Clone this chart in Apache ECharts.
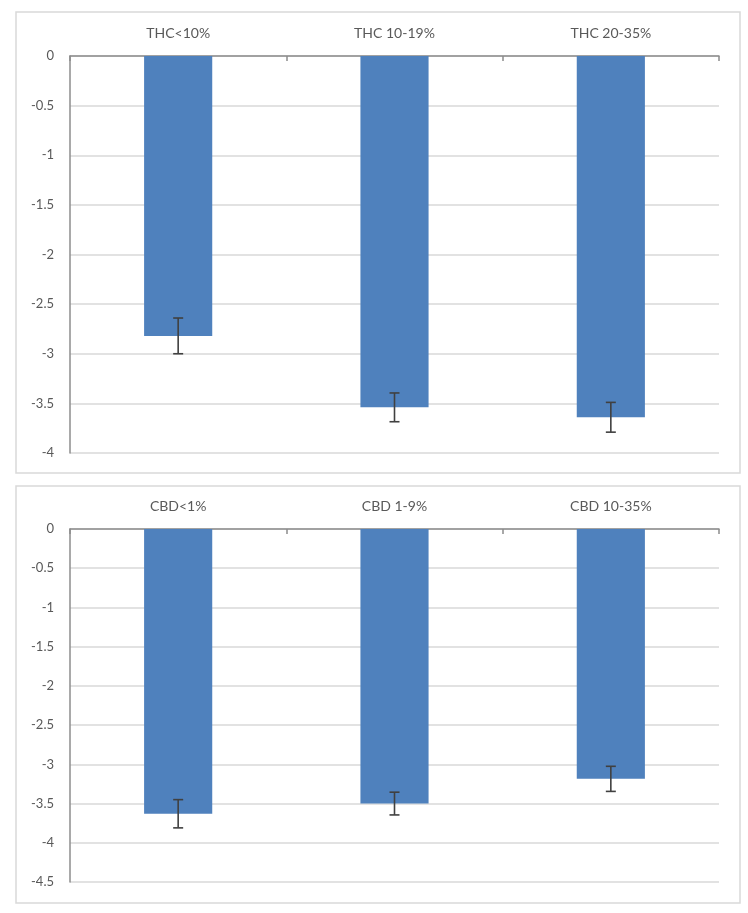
<!DOCTYPE html>
<html>
<head>
<meta charset="utf-8">
<script src="https://cdn.jsdelivr.net/npm/echarts@6/dist/echarts.min.js"></script>
<style>
html,body{margin:0;padding:0;background:#fff;}
#c{width:748px;height:913px;}
</style>
</head>
<body>
<div id="c"></div>
<script>
const thcCategories = ['THC<10%', 'THC 10-19%', 'THC 20-35%'];
const thcValues = [-2.82, -3.54, -3.64];
const thcErrors = [0.18, 0.145, 0.15];
const cbdCategories = ['CBD<1%', 'CBD 1-9%', 'CBD 10-35%'];
const cbdValues = [-3.63, -3.50, -3.185];
const cbdErrors = [0.18, 0.145, 0.16];
const thcAxis = {min: -4, max: 0, interval: 0.5};
const cbdAxis = {min: -4.5, max: 0, interval: 0.5};

const FONT = 'Lato';
const axisGray = '#8c8c8c';
const gridGray = '#d9d9d9';
const textGray = '#595959';
const barColor = '#4f81bd';

function errData(vals, errs) {
  return vals.map((v, i) => [i, v - errs[i], v + errs[i]]);
}
function errRender(params, api) {
  const x = api.value(0);
  const lo = api.coord([x, api.value(1)]);
  const hi = api.coord([x, api.value(2)]);
  const cap = 5;
  const style = {stroke: '#404040', lineWidth: 1.6};
  return {
    type: 'group',
    children: [
      {type: 'line', shape: {x1: lo[0], y1: lo[1], x2: hi[0], y2: hi[1]}, style},
      {type: 'line', shape: {x1: lo[0] - cap, y1: lo[1], x2: lo[0] + cap, y2: lo[1]}, style},
      {type: 'line', shape: {x1: hi[0] - cap, y1: hi[1], x2: hi[0] + cap, y2: hi[1]}, style}
    ]
  };
}
function xAxisCfg(cats, gi) {
  return {
    type: 'category', gridIndex: gi, data: cats, position: 'top',
    axisLine: {onZero: false, lineStyle: {color: axisGray, width: 1.5}},
    axisTick: {show: true, inside: true, length: 5, lineStyle: {color: axisGray, width: 1.5}},
    axisLabel: {color: textGray, fontFamily: FONT, fontSize: 14, margin: 16},
    splitLine: {show: false}
  };
}
function yAxisCfg(ax, gi) {
  return {
    type: 'value', gridIndex: gi, min: ax.min, max: ax.max, interval: ax.interval,
    axisLine: {show: true, lineStyle: {color: axisGray, width: 1.5}},
    axisTick: {show: false},
    axisLabel: {color: textGray, fontFamily: FONT, fontSize: 13, margin: 16},
    splitLine: {lineStyle: {color: gridGray, width: 1.5}}
  };
}

const chart = echarts.init(document.getElementById('c'), null, {renderer: 'canvas'});
chart.setOption({
  backgroundColor: '#fff',
  animation: false,
  graphic: [
    {type: 'rect', shape: {x: 16, y: 12, width: 724, height: 461}, style: {fill: 'none', stroke: '#d9d9d9', lineWidth: 1.5}, z: -1},
    {type: 'rect', shape: {x: 16, y: 486, width: 724, height: 417}, style: {fill: 'none', stroke: '#d9d9d9', lineWidth: 1.5}, z: -1}
  ],
  grid: [
    {left: 70, top: 56, width: 649, height: 397},
    {left: 70, top: 529, width: 649, height: 353}
  ],
  xAxis: [xAxisCfg(thcCategories, 0), xAxisCfg(cbdCategories, 1)],
  yAxis: [yAxisCfg(thcAxis, 0), yAxisCfg(cbdAxis, 1)],
  series: [
    {type: 'bar', xAxisIndex: 0, yAxisIndex: 0, data: thcValues, barWidth: '31.5%', itemStyle: {color: barColor}},
    {type: 'custom', xAxisIndex: 0, yAxisIndex: 0, data: errData(thcValues, thcErrors), renderItem: errRender, z: 5, encode: {x: 0, y: [1, 2]}},
    {type: 'bar', xAxisIndex: 1, yAxisIndex: 1, data: cbdValues, barWidth: '31.5%', itemStyle: {color: barColor}},
    {type: 'custom', xAxisIndex: 1, yAxisIndex: 1, data: errData(cbdValues, cbdErrors), renderItem: errRender, z: 5, encode: {x: 0, y: [1, 2]}}
  ]
});
</script>
</body>
</html>
